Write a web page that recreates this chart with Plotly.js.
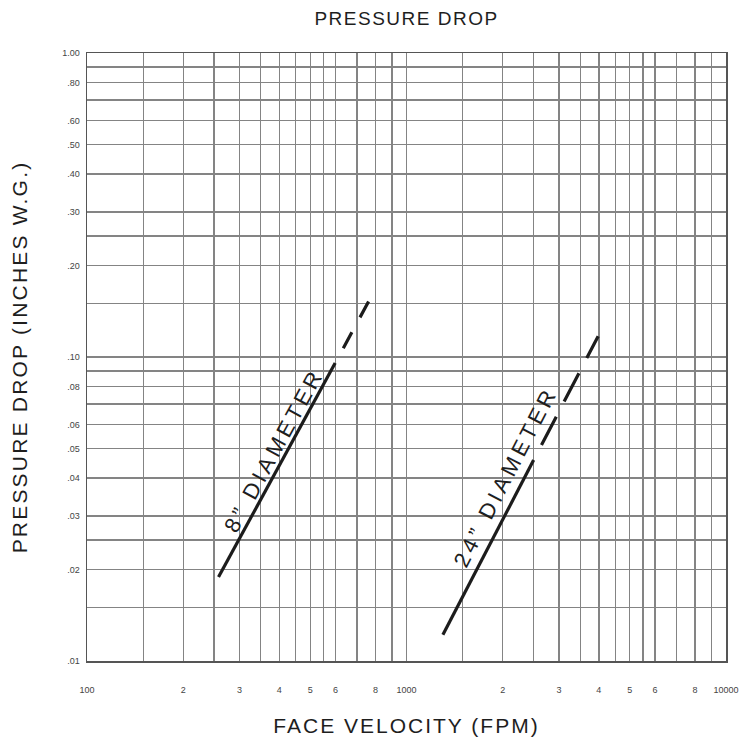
<!DOCTYPE html>
<html>
<head>
<meta charset="utf-8">
<script src="https://cdn.plot.ly/plotly-3.0.1.min.js"></script>
<style>
  html, body { margin: 0; padding: 0; background: #fff; }
  .gtitle { letter-spacing: 1.5px; }
  .xtitle { letter-spacing: 2px; }
  .ytitle { letter-spacing: 2.2px; }
  .annotation-text { letter-spacing: 4px; }
</style>
</head>
<body>
<div id="chart" style="width:751px;height:746px;"></div>
<script>
// ---- data ----
// 8" diameter curve (solid measured part, dashed extrapolation)
const vel8Solid = [258, 598];
const dp8Solid  = [0.0189, 0.0955];
const vel8Dash  = [598, 763];
const dp8Dash   = [0.0955, 0.153];
// 24" diameter curve
const vel24Solid = [1300, 2500];
const dp24Solid  = [0.0122, 0.0458];
const vel24Dash  = [2500, 3980];
const dp24Dash   = [0.0458, 0.117];

// grid / tick values (graph-paper lines) and their labels
const xGridVals = [100,150,200,250,300,350,400,450,500,550,600,700,800,900,
                   1000,1500,2000,2500,3000,3500,4000,4500,5000,5500,6000,7000,8000,9000,10000];
const xGridText = ['100','','2','','3','','4','','5','','6','','8','',
                   '1000','','2','','3','','4','','5','','6','','8','','10000'];
const yGridVals = [0.01,0.015,0.02,0.025,0.03,0.04,0.05,0.06,0.07,0.08,0.09,
                   0.1,0.15,0.2,0.25,0.3,0.4,0.5,0.6,0.7,0.8,0.9,1.0];
const yGridText = ['.01','','.02','','.03','.04','.05','.06','','.08','',
                   '.10','','.20','','.30','.40','.50','.60','','.80','','1.00'];

// curve labels
const curveLabels = ['8\u201d DIAMETER', '24\u201d DIAMETER'];
const labelVel = [384, 2048];
const labelDp  = [0.0494, 0.0403];
const labelAngle = [-61.3, -62.6];

const lineColor = '#1c1c1c';
const traces = [
  {x: vel8Solid, y: dp8Solid, mode: 'lines', line: {color: lineColor, width: 3.2}, hoverinfo: 'skip'},
  {x: vel8Dash, y: dp8Dash, mode: 'lines', line: {color: lineColor, width: 3.2, dash: '0px,17px,18px,0px'}, hoverinfo: 'skip'},
  {x: vel24Solid, y: dp24Solid, mode: 'lines', line: {color: lineColor, width: 3.2}, hoverinfo: 'skip'},
  {x: vel24Dash, y: dp24Dash, mode: 'lines', line: {color: lineColor, width: 3.2, dash: '0px,17px,32px,0px'}, hoverinfo: 'skip'}
];

const fontFam = '"Liberation Sans", Arial, Helvetica, sans-serif';
const annotations = curveLabels.map((t, i) => ({
  text: t, x: Math.log10(labelVel[i]), y: Math.log10(labelDp[i]),
  xref: 'x', yref: 'y', showarrow: false, textangle: labelAngle[i],
  xanchor: 'center', yanchor: 'middle',
  font: {family: fontFam, size: 22, color: '#1e1e1e'}
}));

const layout = {
  width: 751, height: 746,
  margin: {l: 87, r: 25, t: 53, b: 85, pad: 0},
  paper_bgcolor: '#fff', plot_bgcolor: '#fff',
  showlegend: false,
  font: {family: fontFam, color: '#222'},
  title: {text: 'PRESSURE DROP', x: 0.5, xref: 'paper', xanchor: 'center',
          y: 1 - 18/746, yref: 'container', yanchor: 'middle',
          font: {family: fontFam, size: 19, color: '#1e1e1e'}},
  xaxis: {
    type: 'log', range: [2, 4], autorange: false,
    tickmode: 'array', tickvals: xGridVals, ticktext: xGridText,
    ticks: 'outside', ticklen: 20, tickcolor: 'rgba(0,0,0,0)',
    tickfont: {family: fontFam, size: 9, color: '#444'}, tickangle: 0,
    showgrid: true, gridcolor: '#848484', gridwidth: 1.3,
    showline: true, mirror: true, linecolor: '#555', linewidth: 1.5,
    zeroline: false, fixedrange: true,
    title: {text: 'FACE VELOCITY (FPM)', standoff: 24,
            font: {family: fontFam, size: 21, color: '#1e1e1e'}}
  },
  yaxis: {
    type: 'log', range: [-2, 0], autorange: false,
    tickmode: 'array', tickvals: yGridVals, ticktext: yGridText,
    ticks: 'outside', ticklen: 4, tickcolor: 'rgba(0,0,0,0)',
    tickfont: {family: fontFam, size: 9, color: '#444'},
    showgrid: true, gridcolor: '#848484', gridwidth: 1.3,
    showline: true, mirror: true, linecolor: '#555', linewidth: 1.5,
    zeroline: false, fixedrange: true,
    title: {text: 'PRESSURE DROP (INCHES W.G.)', standoff: 29,
            font: {family: fontFam, size: 21, color: '#1e1e1e'}}
  },
  annotations: annotations
};

Plotly.newPlot('chart', traces, layout, {displayModeBar: false, staticPlot: true});
</script>
</body>
</html>
